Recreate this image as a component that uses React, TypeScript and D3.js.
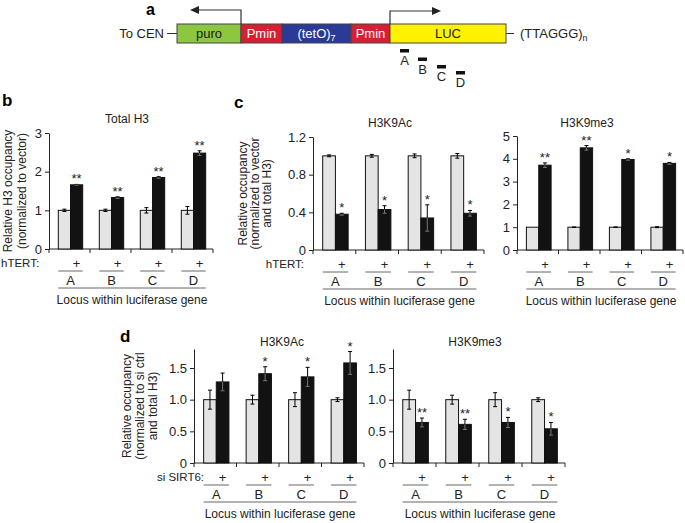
import { useEffect, useRef } from 'react';
import * as d3 from 'd3';

const LOCI = ['A', 'B', 'C', 'D'];

// panel a: construct map (relative segment lengths) and qPCR probe positions along it
const SEGMENT_NAMES = ['puro', 'Pmin', '(tetO)', 'Pmin', 'LUC'];
const SEGMENT_LENGTHS = [64, 41, 69, 39, 116];
const PROBE_STARTS = [223, 241, 260, 279];
const PROBE_LENGTH = 9;

// panel b: Total H3
const H3_TICKS = [0, 1, 2, 3];
const H3_TICK_LABELS = ['0', '1', '2', '3'];
const H3_VECTOR = [1, 1, 1, 1];
const H3_VECTOR_ERR = [0.03, 0.03, 0.07, 0.1];
const H3_HTERT = [1.66, 1.33, 1.85, 2.48];
const H3_HTERT_ERR = [0.01, 0.02, 0.02, 0.06];
const H3_STARS = ['**', '**', '**', '**'];

// panel c: H3K9Ac / H3K9me3 with hTERT
const AC_TICKS = [0, 0.4, 0.8, 1.2];
const AC_TICK_LABELS = ['0', '0.4', '0.8', '1.2'];
const AC_VECTOR = [1, 1, 1, 1];
const AC_VECTOR_ERR = [0.01, 0.015, 0.02, 0.025];
const AC_HTERT = [0.38, 0.43, 0.34, 0.39];
const AC_HTERT_ERR = [0.01, 0.04, 0.14, 0.03];
const AC_STARS = ['*', '*', '*', '*'];

const ME3_TICKS = [0, 1, 2, 3, 4, 5];
const ME3_TICK_LABELS = ['0', '1', '2', '3', '4', '5'];
const ME3_VECTOR = [1, 1, 1, 1];
const ME3_VECTOR_ERR = [0, 0.01, 0.01, 0.02];
const ME3_HTERT = [3.72, 4.48, 3.97, 3.8];
const ME3_HTERT_ERR = [0.1, 0.1, 0.03, 0.04];
const ME3_STARS = ['**', '**', '*', '*'];

// panel d: si SIRT6
const SI_TICKS = [0, 0.5, 1, 1.5];
const SI_TICK_LABELS = ['0', '0.5', '1.0', '1.5'];
const SI_AC_CTRL = [1, 1, 1, 1];
const SI_AC_CTRL_ERR = [0.15, 0.07, 0.11, 0.03];
const SI_AC_SIRT6 = [1.28, 1.41, 1.36, 1.58];
const SI_AC_SIRT6_ERR = [0.14, 0.11, 0.15, 0.18];
const SI_AC_STARS = ['', '*', '*', '*'];

const SI_ME3_CTRL = [1, 1, 1, 1];
const SI_ME3_CTRL_ERR = [0.15, 0.07, 0.11, 0.03];
const SI_ME3_SIRT6 = [0.64, 0.61, 0.64, 0.54];
const SI_ME3_SIRT6_ERR = [0.07, 0.08, 0.08, 0.1];
const SI_ME3_STARS = ['**', '**', '*', '*'];

const FONT = "'Liberation Sans', Arial, Helvetica, sans-serif";
const SEGMENT_STYLES = [
  { fill: '#8dc641', text: '#1a1a1a' },
  { fill: '#d71f33', text: '#ffffff' },
  { fill: '#2b3a97', text: '#ffffff' },
  { fill: '#d71f33', text: '#ffffff' },
  { fill: '#fff200', text: '#1a1a1a' },
];

type Panel = {
  x0: number;
  x1: number;
  y0: number;
  yTop: number;
  max: number;
  ticks: number[];
  tickLabels: string[];
  ctrl: number[];
  ctrlErr: number[];
  treat: number[];
  treatErr: number[];
  stars: string[];
  title: string;
  titleX: number;
  titleY: number;
  yLabel?: string[];
  yLabelX?: number[];
  rowLabel?: string;
  rowLabelX?: number;
  rowLabelAnchor?: string;
};

type G = d3.Selection<SVGGElement, unknown, null, undefined>;

function drawPanel(root: G, p: Panel) {
  const g = root.append('g');
  const y = d3.scaleLinear().domain([0, p.max]).range([p.y0, p.yTop]);
  const groups = d3.scaleBand<string>().domain(LOCI).range([p.x0, p.x1]);
  const inner = d3
    .scaleBand<string>()
    .domain(['ctrl', 'treat'])
    .range([0, groups.step()])
    .paddingInner(0)
    .paddingOuter(0.68)
    .align(0.56);
  const bw = inner.bandwidth();

  // title
  g.append('text')
    .attr('x', p.titleX)
    .attr('y', p.titleY)
    .attr('text-anchor', 'middle')
    .attr('font-size', 12)
    .attr('fill', '#222')
    .text(p.title);

  // y axis
  const yAxis = d3
    .axisLeft(y)
    .tickValues(p.ticks)
    .tickFormat((_, i) => p.tickLabels[i])
    .tickSize(4)
    .tickSizeOuter(0)
    .tickPadding(3);
  const ya = g.append('g').attr('transform', `translate(${p.x0},0)`).call(yAxis);
  ya.attr('font-family', FONT).attr('font-size', 13);
  ya.selectAll('path,line').attr('stroke', '#222');
  ya.selectAll('text').attr('fill', '#222');

  // x axis with ticks at group boundaries
  g.append('line')
    .attr('x1', p.x0)
    .attr('x2', p.x1)
    .attr('y1', p.y0)
    .attr('y2', p.y0)
    .attr('stroke', '#222');
  const bounds = [p.x0, ...LOCI.map((d) => groups(d)! + groups.step())];
  g.selectAll('line.xtick')
    .data(bounds)
    .join('line')
    .attr('class', 'xtick')
    .attr('x1', (d) => d)
    .attr('x2', (d) => d)
    .attr('y1', p.y0)
    .attr('y2', p.y0 + 4)
    .attr('stroke', '#222');

  const rows = LOCI.map((locus, i) => ({
    locus,
    ctrl: p.ctrl[i],
    ctrlErr: p.ctrlErr[i],
    treat: p.treat[i],
    treatErr: p.treatErr[i],
    star: p.stars[i],
    xc: groups(locus)! + inner('ctrl')!,
    xt: groups(locus)! + inner('treat')!,
  }));

  // bars
  g.selectAll('rect.ctrl')
    .data(rows)
    .join('rect')
    .attr('class', 'ctrl')
    .attr('x', (d) => d.xc)
    .attr('width', bw)
    .attr('y', (d) => y(d.ctrl))
    .attr('height', (d) => p.y0 - y(d.ctrl))
    .attr('fill', '#e4e4e4')
    .attr('stroke', '#111')
    .attr('stroke-width', 1);
  g.selectAll('rect.treat')
    .data(rows)
    .join('rect')
    .attr('class', 'treat')
    .attr('x', (d) => d.xt)
    .attr('width', bw)
    .attr('y', (d) => y(d.treat))
    .attr('height', (d) => p.y0 - y(d.treat))
    .attr('fill', '#121212')
    .attr('stroke', '#111')
    .attr('stroke-width', 1);

  // error bars
  const err = (cx: number, v: number, e: number, lowColor: string) => {
    if (e <= 0) return;
    const cap = 2;
    g.append('line').attr('x1', cx).attr('x2', cx).attr('y1', y(v)).attr('y2', y(v + e)).attr('stroke', '#000');
    g.append('line').attr('x1', cx - cap).attr('x2', cx + cap).attr('y1', y(v + e)).attr('y2', y(v + e)).attr('stroke', '#000');
    g.append('line').attr('x1', cx).attr('x2', cx).attr('y1', y(v)).attr('y2', y(v - e)).attr('stroke', lowColor);
    g.append('line').attr('x1', cx - cap).attr('x2', cx + cap).attr('y1', y(v - e)).attr('y2', y(v - e)).attr('stroke', lowColor);
  };
  rows.forEach((d) => {
    err(d.xc + bw / 2, d.ctrl, d.ctrlErr, '#000');
    err(d.xt + bw / 2, d.treat, d.treatErr, '#777');
  });

  // significance stars
  g.selectAll('text.star')
    .data(rows)
    .join('text')
    .attr('class', 'star')
    .attr('x', (d) => d.xt + bw / 2)
    .attr('y', (d) => y(d.treat + d.treatErr) - 1)
    .attr('text-anchor', 'middle')
    .attr('font-size', 13)
    .attr('fill', '#222')
    .text((d) => d.star);

  // "+" row
  g.selectAll('text.plus')
    .data(rows)
    .join('text')
    .attr('class', 'plus')
    .attr('x', (d) => d.xt + bw / 2)
    .attr('y', p.y0 + 19)
    .attr('text-anchor', 'middle')
    .attr('font-size', 13)
    .attr('fill', '#222')
    .text('+');
  g.selectAll('line.under')
    .data(rows)
    .join('line')
    .attr('class', 'under')
    .attr('x1', (d) => d.xc)
    .attr('x2', (d) => d.xt + bw)
    .attr('y1', p.y0 + 22)
    .attr('y2', p.y0 + 22)
    .attr('stroke', '#666');
  g.selectAll('text.locus')
    .data(rows)
    .join('text')
    .attr('class', 'locus')
    .attr('x', (d) => d.xc + bw)
    .attr('y', p.y0 + 35.5)
    .attr('text-anchor', 'middle')
    .attr('font-size', 13)
    .attr('fill', '#222')
    .text((d) => d.locus);
  const lx0 = rows[0].xc;
  const lx1 = rows[rows.length - 1].xt + bw;
  g.append('line')
    .attr('x1', lx0)
    .attr('x2', lx1)
    .attr('y1', p.y0 + 39)
    .attr('y2', p.y0 + 39)
    .attr('stroke', '#666');
  g.append('text')
    .attr('x', (lx0 + lx1) / 2)
    .attr('y', p.y0 + 55)
    .attr('text-anchor', 'middle')
    .attr('font-size', 12)
    .attr('fill', '#222')
    .text('Locus within luciferase gene');

  if (p.rowLabel) {
    g.append('text')
      .attr('x', p.rowLabelX!)
      .attr('y', p.y0 + 18)
      .attr('text-anchor', p.rowLabelAnchor ?? 'end')
      .attr('font-size', 11.5)
      .attr('fill', '#222')
      .text(p.rowLabel);
  }

  if (p.yLabel) {
    const yc = (p.y0 + p.yTop) / 2;
    p.yLabel.forEach((line, i) => {
      g.append('text')
        .attr('transform', `translate(${p.yLabelX![i] + 4},${yc}) rotate(-90)`)
        .attr('text-anchor', 'middle')
        .attr('font-size', 12)
        .attr('fill', '#222')
        .text(line);
    });
  }
}

function drawConstruct(root: G) {
  const g = root.append('g');
  const total = d3.sum(SEGMENT_LENGTHS);
  const x = d3.scaleLinear().domain([0, total]).range([177, 506]);
  const starts = d3.cumsum([0, ...SEGMENT_LENGTHS.slice(0, -1)]);
  const top = 24;
  const h = 19;
  const mid = top + h / 2;

  g.append('text').attr('x', 146).attr('y', 15).attr('font-size', 16).attr('font-weight', 'bold').text('a');

  g.append('text').attr('x', 164).attr('y', mid + 4.5).attr('text-anchor', 'end').attr('font-size', 13).attr('fill', '#222').text('To CEN');
  g.append('line').attr('x1', 167).attr('x2', x(0)).attr('y1', mid).attr('y2', mid).attr('stroke', '#333');
  g.append('line').attr('x1', x(total)).attr('x2', 514).attr('y1', mid).attr('y2', mid).attr('stroke', '#333');
  const tel = g.append('text').attr('x', 520).attr('y', mid + 4.5).attr('font-size', 13).attr('fill', '#222');
  tel.append('tspan').text('(TTAGGG)');
  tel.append('tspan').attr('font-size', 9).attr('dy', 3).text('n');

  SEGMENT_NAMES.forEach((name, i) => {
    const x0 = x(starts[i]);
    const x1 = x(starts[i] + SEGMENT_LENGTHS[i]);
    g.append('rect')
      .attr('x', x0)
      .attr('y', top)
      .attr('width', x1 - x0)
      .attr('height', h)
      .attr('fill', SEGMENT_STYLES[i].fill)
      .attr('stroke', '#444')
      .attr('stroke-width', 1);
    const t = g
      .append('text')
      .attr('x', (x0 + x1) / 2)
      .attr('y', mid + 4.5)
      .attr('text-anchor', 'middle')
      .attr('font-size', 13)
      .attr('fill', SEGMENT_STYLES[i].text);
    t.append('tspan').text(name);
    if (name === '(tetO)') t.append('tspan').attr('font-size', 9).attr('dy', 3).text('7');
  });

  // promoter arrows
  const pLeft = x(starts[1]);
  const pRight = x(starts[4]);
  g.append('path').attr('d', `M${pLeft},${top} V10 H197`).attr('fill', 'none').attr('stroke', '#333').attr('stroke-width', 1.2);
  g.append('path').attr('d', `M190,10 L199,6 L199,14 Z`).attr('fill', '#222');
  g.append('path').attr('d', `M${pRight},${top} V11 H434`).attr('fill', 'none').attr('stroke', '#333').attr('stroke-width', 1.2);
  g.append('path').attr('d', `M441,11 L432,7 L432,15 Z`).attr('fill', '#222');

  // probes
  const probeY = [49, 57.5, 65, 71];
  PROBE_STARTS.forEach((s, i) => {
    g.append('rect').attr('x', x(s)).attr('y', probeY[i]).attr('width', x(s + PROBE_LENGTH) - x(s)).attr('height', 3.5).attr('fill', '#111');
    g.append('text')
      .attr('x', x(s + PROBE_LENGTH / 2))
      .attr('y', probeY[i] + 16)
      .attr('text-anchor', 'middle')
      .attr('font-size', 13)
      .attr('fill', '#222')
      .text(LOCI[i]);
  });
}

export default function App() {
  const svgRef = useRef<SVGSVGElement | null>(null);

  useEffect(() => {
    const el = svgRef.current;
    if (!el) return;
    const svg = d3.select(el);
    svg.selectAll('*').remove();
    const root = svg.append('g').attr('font-family', FONT) as unknown as G;

    drawConstruct(root);

    const letter = (t: string, x: number, y: number) =>
      root.append('text').attr('x', x).attr('y', y).attr('font-size', 17).attr('font-weight', 'bold').text(t);
    letter('b', 2, 106);
    letter('c', 234, 108);
    letter('d', 120, 342);

    drawPanel(root, {
      x0: 49, x1: 213, y0: 249, yTop: 133, max: 3,
      ticks: H3_TICKS, tickLabels: H3_TICK_LABELS,
      ctrl: H3_VECTOR, ctrlErr: H3_VECTOR_ERR, treat: H3_HTERT, treatErr: H3_HTERT_ERR, stars: H3_STARS,
      title: 'Total H3', titleX: 127, titleY: 123,
      yLabel: ['Relative H3 occupancy', '(normalized to vector)'], yLabelX: [8, 22],
      rowLabel: 'hTERT:', rowLabelX: 1, rowLabelAnchor: 'start',
    });
    drawPanel(root, {
      x0: 313, x1: 484, y0: 250, yTop: 137, max: 1.2,
      ticks: AC_TICKS, tickLabels: AC_TICK_LABELS,
      ctrl: AC_VECTOR, ctrlErr: AC_VECTOR_ERR, treat: AC_HTERT, treatErr: AC_HTERT_ERR, stars: AC_STARS,
      title: 'H3K9Ac', titleX: 390, titleY: 127,
      yLabel: ['Relative occupancy', '(normalized to vector', 'and total H3)'], yLabelX: [243, 255, 267],
      rowLabel: 'hTERT:', rowLabelX: 304,
    });
    drawPanel(root, {
      x0: 517, x1: 683, y0: 250, yTop: 136, max: 5,
      ticks: ME3_TICKS, tickLabels: ME3_TICK_LABELS,
      ctrl: ME3_VECTOR, ctrlErr: ME3_VECTOR_ERR, treat: ME3_HTERT, treatErr: ME3_HTERT_ERR, stars: ME3_STARS,
      title: 'H3K9me3', titleX: 587, titleY: 127,
    });
    drawPanel(root, {
      x0: 194, x1: 364, y0: 463, yTop: 349, max: 1.8,
      ticks: SI_TICKS, tickLabels: SI_TICK_LABELS,
      ctrl: SI_AC_CTRL, ctrlErr: SI_AC_CTRL_ERR, treat: SI_AC_SIRT6, treatErr: SI_AC_SIRT6_ERR, stars: SI_AC_STARS,
      title: 'H3K9Ac', titleX: 282, titleY: 346,
      yLabel: ['Relative occupancy', '(normalized to si ctrl', 'and total H3)'], yLabelX: [127, 140, 153],
      rowLabel: 'si SIRT6:', rowLabelX: 204,
    });
    drawPanel(root, {
      x0: 393, x1: 565, y0: 463, yTop: 349, max: 1.8,
      ticks: SI_TICKS, tickLabels: SI_TICK_LABELS,
      ctrl: SI_ME3_CTRL, ctrlErr: SI_ME3_CTRL_ERR, treat: SI_ME3_SIRT6, treatErr: SI_ME3_SIRT6_ERR, stars: SI_ME3_STARS,
      title: 'H3K9me3', titleX: 475, titleY: 346,
    });
  }, []);

  return (
    <svg
      ref={svgRef}
      width={685}
      height={523}
      viewBox="0 0 685 523"
      style={{ position: 'absolute', left: 0, top: 0, background: '#fff' }}
    />
  );
}
